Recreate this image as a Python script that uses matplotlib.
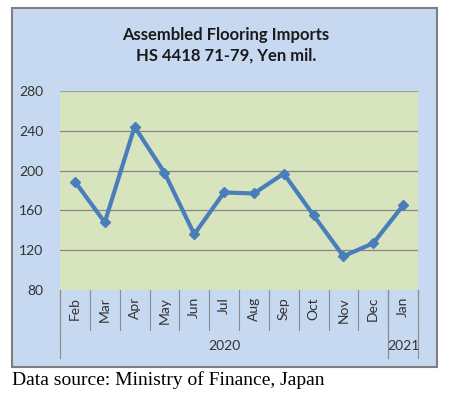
import matplotlib
matplotlib.use("Agg")
import matplotlib.pyplot as plt
import matplotlib.patches as mpatches
import matplotlib.transforms as mtransforms

# ── Data ──────────────────────────────────────────
months = ["Feb", "Mar", "Apr", "May", "Jun", "Jul", "Aug", "Sep", "Oct", "Nov", "Dec", "Jan"]
values = [189, 148, 244, 198, 136, 178, 177, 197, 155, 114, 127, 165]
years = ["2020", "2021"]
year_spans = [(0, 10), (11, 11)]   # first/last month index of each year
yticks = [80, 120, 160, 200, 240, 280]

C_PANEL = "#C6D9F1"
C_PLOT = "#D7E4BD"
C_LINE = "#4A7EBB"
C_GRID = "#868686"

W, H = 451, 396
fig = plt.figure(figsize=(W / 100, H / 100), dpi=100)
fig.patch.set_facecolor("white")

# outer chart panel
panel = mpatches.Rectangle((12 / W, 1 - 367 / H), 425 / W, 359 / H,
                           transform=fig.transFigure, facecolor=C_PANEL,
                           edgecolor="#7F7F7F", lw=1.5, zorder=-5)
fig.patches.append(panel)

ax = fig.add_axes([60 / W, 1 - 290 / H, 358 / W, 199 / H])
ax.set_facecolor(C_PLOT)
for s in ax.spines.values():
    s.set_visible(False)

x = list(range(len(months)))
ax.set_xlim(-0.5, len(months) - 0.5)
ax.set_ylim(80, 280)
ax.set_yticks(yticks)
ax.set_yticklabels([str(v) for v in yticks], fontsize=10, color="#333333",
                   family="Lato")
ax.tick_params(axis="y", length=0, pad=12)
ax.set_xticks([])
for v in yticks[1:-1]:
    ax.axhline(v, color=C_GRID, lw=0.9, zorder=1)
ax.axhline(280, color="#A0A0A0", lw=0.9, zorder=1)

ax.plot(x, values, color=C_LINE, lw=3, marker="D", markersize=5,
        markerfacecolor=C_LINE, markeredgecolor=C_LINE, zorder=3,
        solid_joinstyle="round")

# multi-level category axis
trans = mtransforms.blended_transform_factory(ax.transData, ax.transAxes)
for i, m in enumerate(months):
    ax.text(i, -0.035, m, rotation=90, ha="center", va="top", fontsize=10,
            color="#333333", family="Lato", transform=trans)
for i in range(len(months) + 1):
    ax.plot([i - 0.5, i - 0.5], [0, -0.2], color="#8C8C8C", lw=0.8,
            transform=trans, clip_on=False)
for yr, (a, b) in zip(years, year_spans):
    ax.text((a + b) / 2, -0.28, yr, ha="center", va="center", fontsize=10,
            color="#333333", family="Lato", transform=trans)
    for edge in (a - 0.5, b + 0.5):
        ax.plot([edge, edge], [0, -0.34], color="#8C8C8C", lw=0.8,
                transform=trans, clip_on=False)

fig.text(226 / W, 1 - 35 / H, "Assembled Flooring Imports", ha="center",
         va="center", fontsize=12, fontweight="bold", family="Lato",
         color="#1A1A1A")
fig.text(226 / W, 1 - 56 / H, "HS 4418 71-79, Yen mil.", ha="center",
         va="center", fontsize=12, fontweight="bold", family="Lato",
         color="#1A1A1A")

fig.text(12 / W, 1 - 380 / H, "Data source: Ministry of Finance, Japan",
         ha="left", va="center", fontsize=14, family="Liberation Serif",
         color="black")

fig.savefig("out.png", dpi=100, facecolor="white")
